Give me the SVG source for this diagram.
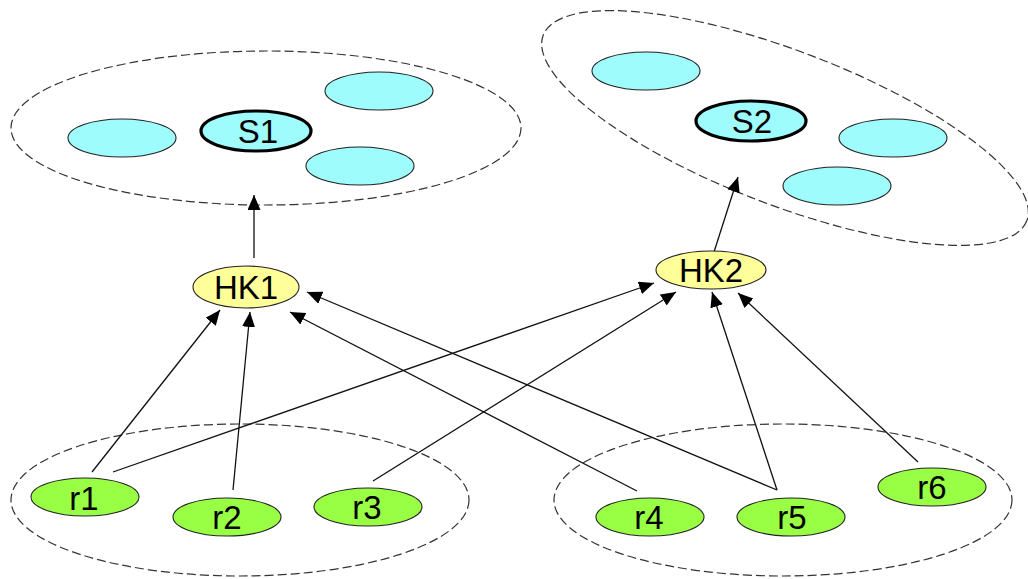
<svg xmlns="http://www.w3.org/2000/svg" width="1028" height="579" viewBox="0 0 1028 579">
<style>
.grp{fill:none;stroke:#333;stroke-width:1.2;stroke-dasharray:9 4}
.cy{fill:#9ffcfc;stroke:#222;stroke-width:1.1}
.srv{fill:#9ffcfc;stroke:#000;stroke-width:3.2}
.hk{fill:#ffff99;stroke:#222;stroke-width:1.1}
.r{fill:#99ff44;stroke:#222;stroke-width:1.1}
.t{font-family:"Liberation Sans",Arial,sans-serif;font-size:33px;fill:#000;text-anchor:middle}
.c{stroke:#111;stroke-width:1.3;fill:none;marker-end:url(#ah)}
</style>
<defs>
<marker id="ah" markerUnits="userSpaceOnUse" markerWidth="16" markerHeight="14" refX="15" refY="6.5" orient="auto">
<path d="M0,0 L15,6.5 L0,13 z" fill="#000"/>
</marker>
</defs>
<rect width="1028" height="579" fill="#fff"/>
<g id="groups">
<ellipse class="grp" cx="266" cy="128" rx="255" ry="77"/>
<ellipse class="grp" cx="785" cy="128" rx="259" ry="77" transform="rotate(21 785 128)"/>
<ellipse class="grp" cx="240" cy="500" rx="229" ry="76"/>
<ellipse class="grp" cx="783" cy="500" rx="229" ry="76"/>
</g>
<g id="connectors">
<line class="c" x1="92" y1="472" x2="220" y2="310"/>
<line class="c" x1="233" y1="490" x2="250" y2="312"/>
<line class="c" x1="637" y1="491" x2="290" y2="312"/>
<line class="c" x1="777" y1="490" x2="307" y2="292"/>
<line class="c" x1="113" y1="472" x2="654" y2="283"/>
<line class="c" x1="373" y1="481" x2="676" y2="292"/>
<line class="c" x1="777" y1="490" x2="712" y2="292"/>
<line class="c" x1="918" y1="462" x2="738" y2="293"/>
<line class="c" x1="254" y1="258" x2="254" y2="195"/>
<line class="c" x1="714" y1="252" x2="738" y2="177"/>
</g>
<g id="c1"><ellipse class="cy" cx="122" cy="138" rx="54" ry="19"/></g>
<g id="S1"><ellipse class="srv" cx="256" cy="131" rx="55" ry="20"/><text class="t" x="258" y="143">S1</text></g>
<g id="c2"><ellipse class="cy" cx="379" cy="91" rx="54" ry="19"/></g>
<g id="c3"><ellipse class="cy" cx="360" cy="166" rx="54" ry="19"/></g>
<g id="c4"><ellipse class="cy" cx="646" cy="71" rx="54" ry="19"/></g>
<g id="S2"><ellipse class="srv" cx="751" cy="121" rx="55" ry="20"/><text class="t" x="752" y="133">S2</text></g>
<g id="c5"><ellipse class="cy" cx="893" cy="138" rx="54" ry="19"/></g>
<g id="c6"><ellipse class="cy" cx="837" cy="186" rx="54" ry="19"/></g>
<g id="HK1"><ellipse class="hk" cx="246" cy="287" rx="53" ry="21"/><text class="t" x="246" y="299">HK1</text></g>
<g id="HK2"><ellipse class="hk" cx="711" cy="270" rx="55" ry="19"/><text class="t" x="711" y="282">HK2</text></g>
<g id="r1"><ellipse class="r" cx="85" cy="497" rx="54" ry="19"/><text class="t" x="84" y="510">r1</text></g>
<g id="r2"><ellipse class="r" cx="227" cy="517" rx="54" ry="19"/><text class="t" x="227" y="529">r2</text></g>
<g id="r3"><ellipse class="r" cx="368" cy="507" rx="54" ry="19"/><text class="t" x="367" y="519">r3</text></g>
<g id="r4"><ellipse class="r" cx="650" cy="517" rx="54" ry="19"/><text class="t" x="649" y="529">r4</text></g>
<g id="r5"><ellipse class="r" cx="791" cy="517" rx="54" ry="19"/><text class="t" x="792" y="529">r5</text></g>
<g id="r6"><ellipse class="r" cx="932" cy="487" rx="54" ry="19"/><text class="t" x="932" y="499">r6</text></g>
</svg>
